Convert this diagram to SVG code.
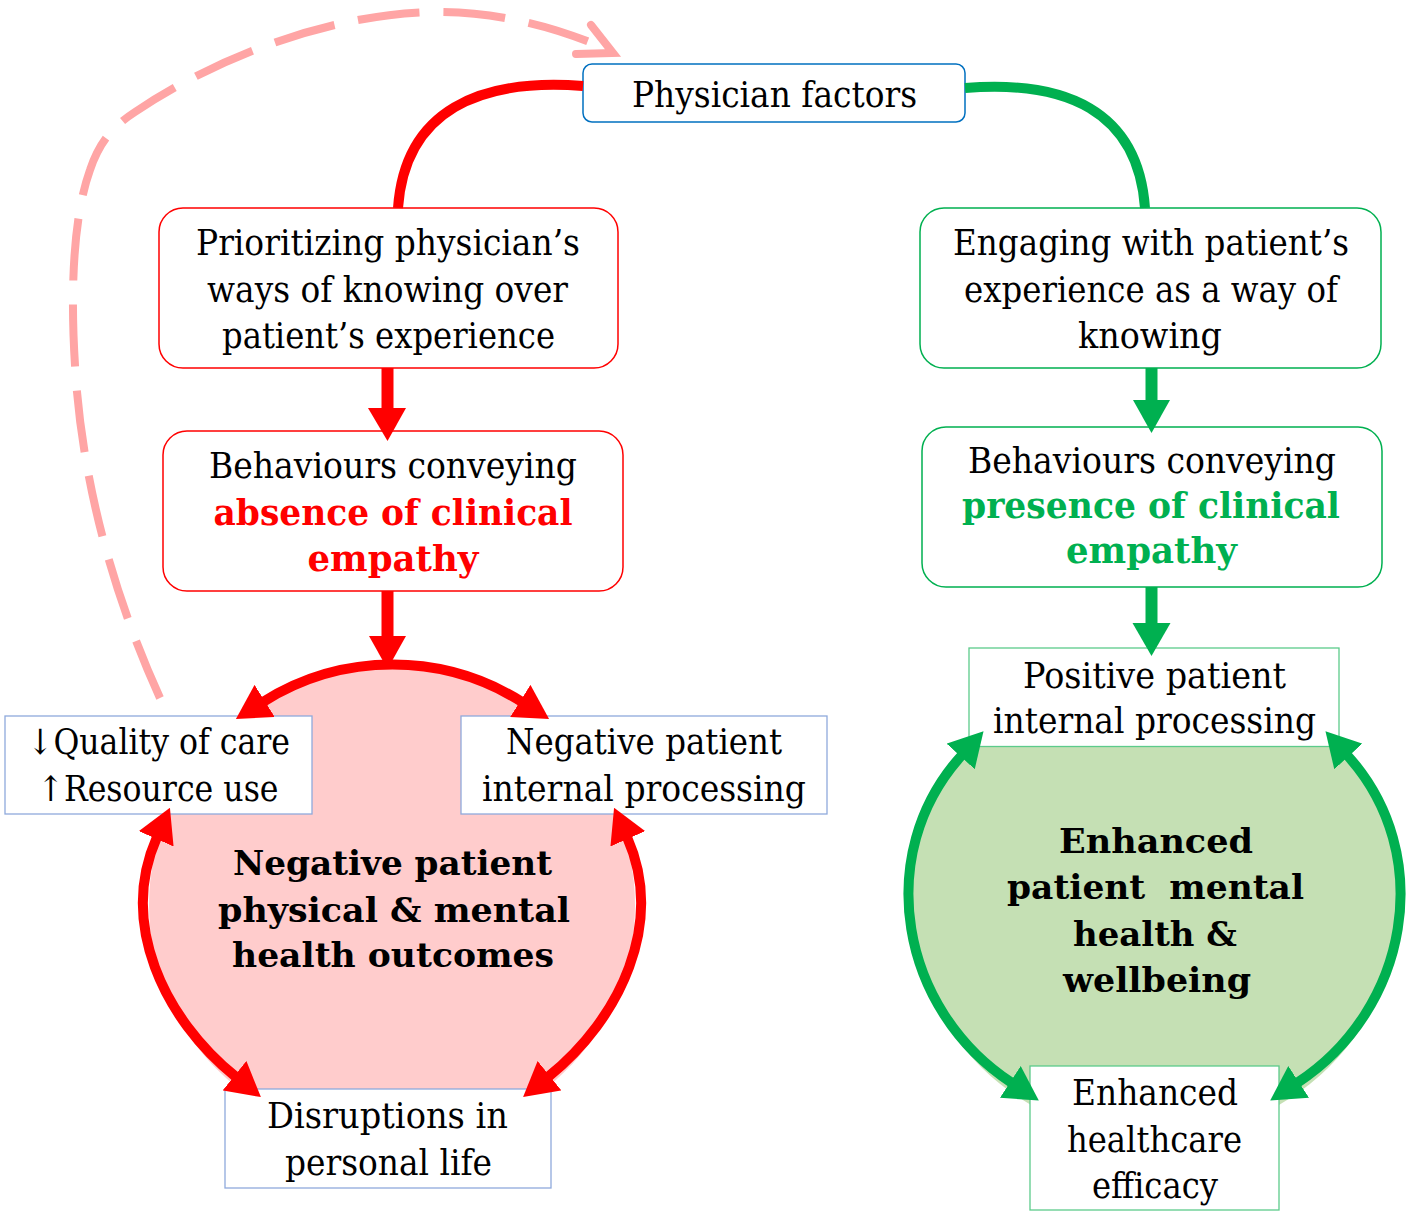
<svg xmlns="http://www.w3.org/2000/svg" width="1406" height="1217" viewBox="0 0 1406 1217">
  <style>
    text { font-family: "DejaVu Serif", "Liberation Serif", serif; text-anchor: middle; fill: #000; }
    .r { font-size: 35px; }
    .b { font-size: 35px; font-weight: bold; }
    .cb { font-size: 34px; font-weight: bold; }
    .red { fill: #FF0000; }
    .grn { fill: #00B050; }
    .box { fill: #FFFFFF; }
    .rbox { stroke: #FF0000; stroke-width: 1.5; }
    .gbox { stroke: #00B050; stroke-width: 1.5; }
    .bbox { stroke: #0070C0; stroke-width: 1.5; }
    .sbox-r { stroke: #8FAADC; stroke-width: 1.3; }
    .sbox-g { stroke: #5CCB8B; stroke-width: 1.3; }
    .conn { fill: none; stroke-width: 10; }
    .rs { stroke: #FF0000; }
    .gs { stroke: #00B050; }
  </style>
  <defs>
    <marker id="headR" viewBox="0 0 34 38" refX="2" refY="19" markerWidth="34" markerHeight="38" markerUnits="userSpaceOnUse" orient="auto-start-reverse">
      <path d="M0,0 L34,19 L0,38 Z" fill="#FF0000"/>
    </marker>
    <marker id="headG" viewBox="0 0 34 38" refX="2" refY="19" markerWidth="34" markerHeight="38" markerUnits="userSpaceOnUse" orient="auto-start-reverse">
      <path d="M0,0 L34,19 L0,38 Z" fill="#00B050"/>
    </marker>
  </defs>

  <rect width="1406" height="1217" fill="#FFFFFF"/>

  <!-- outcome circles -->
  <g id="negative-outcomes">
    <ellipse cx="392" cy="905" rx="243" ry="237" fill="#FFCCCC"/>
    <text class="cb" x="392.5" y="875" textLength="319" lengthAdjust="spacingAndGlyphs">Negative patient</text>
    <text class="cb" x="394" y="921.5" textLength="352" lengthAdjust="spacingAndGlyphs">physical &amp; mental</text>
    <text class="cb" x="393" y="967" textLength="322" lengthAdjust="spacingAndGlyphs">health outcomes</text>
  </g>
  <g id="enhanced-wellbeing">
    <ellipse cx="1155" cy="898" rx="245" ry="240" fill="#C5E0B4"/>
    <text class="cb" x="1156" y="853" textLength="194" lengthAdjust="spacingAndGlyphs">Enhanced</text>
    <text class="cb" x="1155.5" y="899" textLength="297" lengthAdjust="spacingAndGlyphs">patient&#160; mental</text>
    <text class="cb" x="1155" y="946" textLength="164" lengthAdjust="spacingAndGlyphs">health &amp;</text>
    <text class="cb" x="1157" y="992" textLength="188" lengthAdjust="spacingAndGlyphs">wellbeing</text>
  </g>

  <!-- boxes -->
  <g id="physician-factors">
    <rect class="box bbox" x="583" y="64" width="382" height="58" rx="9"/>
    <text class="r" x="774.5" y="107" textLength="285" lengthAdjust="spacingAndGlyphs">Physician factors</text>
  </g>
  <g id="prioritizing">
    <rect class="box rbox" x="159" y="208" width="459" height="160" rx="24"/>
    <text class="r" x="388" y="255" textLength="384" lengthAdjust="spacingAndGlyphs">Prioritizing physician’s</text>
    <text class="r" x="387.5" y="302" textLength="361" lengthAdjust="spacingAndGlyphs">ways of knowing over</text>
    <text class="r" x="388.5" y="348" textLength="333" lengthAdjust="spacingAndGlyphs">patient’s experience</text>
  </g>
  <g id="absence">
    <rect class="box rbox" x="163" y="431" width="460" height="160" rx="24"/>
    <text class="r" x="393" y="478" textLength="368" lengthAdjust="spacingAndGlyphs">Behaviours conveying</text>
    <text class="b red" x="393" y="525" textLength="359" lengthAdjust="spacingAndGlyphs">absence of clinical</text>
    <text class="b red" x="393" y="571" textLength="171" lengthAdjust="spacingAndGlyphs">empathy</text>
  </g>
  <g id="engaging">
    <rect class="box gbox" x="920" y="208" width="461" height="160" rx="24"/>
    <text class="r" x="1151" y="255" textLength="396" lengthAdjust="spacingAndGlyphs">Engaging with patient’s</text>
    <text class="r" x="1151" y="302" textLength="374" lengthAdjust="spacingAndGlyphs">experience as a way of</text>
    <text class="r" x="1150" y="348" textLength="144" lengthAdjust="spacingAndGlyphs">knowing</text>
  </g>
  <g id="presence">
    <rect class="box gbox" x="922" y="427" width="460" height="160" rx="24"/>
    <text class="r" x="1152" y="473" textLength="368" lengthAdjust="spacingAndGlyphs">Behaviours conveying</text>
    <text class="b grn" x="1151" y="518" textLength="378" lengthAdjust="spacingAndGlyphs">presence of clinical</text>
    <text class="b grn" x="1151.5" y="563" textLength="171" lengthAdjust="spacingAndGlyphs">empathy</text>
  </g>
  <g id="quality-resources">
    <rect class="box sbox-r" x="5" y="716" width="307" height="98"/>
    <text class="r" x="158.5" y="754" textLength="263" lengthAdjust="spacingAndGlyphs">↓Quality of care</text>
    <text class="r" x="158" y="801" textLength="241" lengthAdjust="spacingAndGlyphs">↑Resource use</text>
  </g>
  <g id="negative-processing">
    <rect class="box sbox-r" x="461" y="716" width="366" height="98"/>
    <text class="r" x="644" y="754" textLength="276" lengthAdjust="spacingAndGlyphs">Negative patient</text>
    <text class="r" x="644" y="801" textLength="324" lengthAdjust="spacingAndGlyphs">internal processing</text>
  </g>
  <g id="disruptions">
    <rect class="box sbox-r" x="225" y="1089" width="326" height="99"/>
    <text class="r" x="387.5" y="1128" textLength="241" lengthAdjust="spacingAndGlyphs">Disruptions in</text>
    <text class="r" x="388.5" y="1175" textLength="207" lengthAdjust="spacingAndGlyphs">personal life</text>
  </g>
  <g id="positive-processing">
    <rect class="box sbox-g" x="969" y="648" width="370" height="98.5"/>
    <text class="r" x="1154.5" y="688" textLength="263" lengthAdjust="spacingAndGlyphs">Positive patient</text>
    <text class="r" x="1154.5" y="733" textLength="323" lengthAdjust="spacingAndGlyphs">internal processing</text>
  </g>
  <g id="healthcare-efficacy">
    <rect class="box sbox-g" x="1030" y="1066" width="249" height="144"/>
    <text class="r" x="1155" y="1105" textLength="166" lengthAdjust="spacingAndGlyphs">Enhanced</text>
    <text class="r" x="1154.5" y="1152" textLength="175" lengthAdjust="spacingAndGlyphs">healthcare</text>
    <text class="r" x="1155" y="1198" textLength="126" lengthAdjust="spacingAndGlyphs">efficacy</text>
  </g>

  <!-- connectors -->
  <g id="connectors">
    <!-- feedback loop back to physician factors -->
    <path d="M160,698 C120,610 85,500 76,380 C70,300 72,220 90,170 C100,140 115,125 135,112 C220,55 330,15 430,12 C490,11 550,24 606,49" fill="none" stroke="#FFA5A5" stroke-width="8" stroke-dasharray="62 24"/>
    <path d="M591,25 L613,53 L576,54" fill="none" stroke="#FFA5A5" stroke-width="8" stroke-linecap="round" stroke-linejoin="miter"/>

    <!-- physician factors to the two pathways -->
    <path class="conn rs" d="M583,86 C480,78 405,110 398,208"/>
    <path class="conn gs" d="M965,88 C1065,80 1138,110 1145,208"/>

    <!-- straight block arrows -->
    <line x1="387.5" y1="368" x2="387.5" y2="410" stroke="#FF0000" stroke-width="12"/>
    <polygon points="368,408 406,408 387.5,441" fill="#FF0000"/>
    <line x1="387.5" y1="591" x2="387.5" y2="638" stroke="#FF0000" stroke-width="12"/>
    <polygon points="369,636 406,636 387.5,669" fill="#FF0000"/>
    <line x1="1151.5" y1="368" x2="1151.5" y2="402" stroke="#00B050" stroke-width="12"/>
    <polygon points="1133,400 1170,400 1151.5,433" fill="#00B050"/>
    <line x1="1151.5" y1="587" x2="1151.5" y2="625" stroke="#00B050" stroke-width="12"/>
    <polygon points="1132.5,623 1170.5,623 1151.5,656" fill="#00B050"/>

    <!-- negative cycle -->
    <path class="conn rs" d="M263,702 A243,243 0 0 1 522,702" marker-start="url(#headR)" marker-end="url(#headR)"/>
    <path class="conn rs" d="M157,837 C119,923 163,1018 236,1077" marker-start="url(#headR)" marker-end="url(#headR)"/>
    <path class="conn rs" d="M627,837 C665,923 621,1018 548,1077" marker-start="url(#headR)" marker-end="url(#headR)"/>

    <!-- positive cycle -->
    <path class="conn gs" d="M962,755 C872,854 900,1010 1012,1083" marker-start="url(#headG)" marker-end="url(#headG)"/>
    <path class="conn gs" d="M1347,755 C1437,854 1409,1010 1297,1083" marker-start="url(#headG)" marker-end="url(#headG)"/>
  </g>
</svg>
